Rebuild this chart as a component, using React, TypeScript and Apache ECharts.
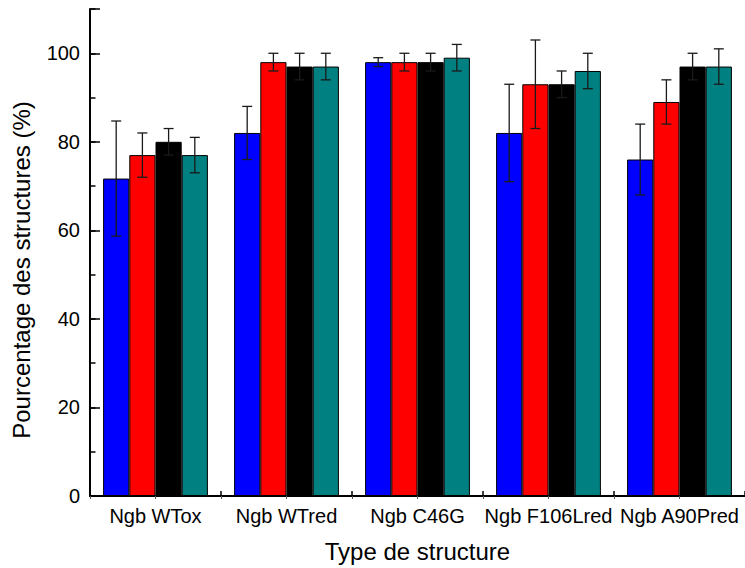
import React, { useEffect, useRef } from "react";
import * as echarts from "echarts";

const categories = ["Ngb WTox", "Ngb WTred", "Ngb C46G", "Ngb F106Lred", "Ngb A90Pred"];
const blueValues = [71.7, 82, 98, 82, 76];
const blueErrors = [13, 6, 1, 11, 8];
const redValues = [77, 98, 98, 93, 89];
const redErrors = [5, 2, 2, 10, 5];
const blackValues = [80, 97, 98, 93, 97];
const blackErrors = [3, 3, 2, 3, 3];
const tealValues = [77, 97, 99, 96, 97];
const tealErrors = [4, 3, 3, 4, 4];
const yTicks = [0, 20, 40, 60, 80, 100];

const FONT = '"Liberation Sans", Arial, sans-serif';

export default function App() {
  const ref = useRef<HTMLDivElement>(null);
  useEffect(() => {
    document.body.style.margin = "0";
    const chart = echarts.init(ref.current!, null, { renderer: "svg" });
    const seriesDefs = [
      { name: "Série 1", color: "#0000FF", values: blueValues, errors: blueErrors },
      { name: "Série 2", color: "#FF0000", values: redValues, errors: redErrors },
      { name: "Série 3", color: "#000000", values: blackValues, errors: blackErrors },
      { name: "Série 4", color: "#008080", values: tealValues, errors: tealErrors },
    ];
    const nSeries = seriesDefs.length;
    const barSeries = seriesDefs.map((s) => ({
      name: s.name,
      type: "bar",
      xAxisIndex: 0,
      yAxisIndex: 0,
      data: s.values,
      barGap: "0%",
      barCategoryGap: "20%",
      itemStyle: { color: s.color, borderColor: "#000", borderWidth: 1 },
      z: 2,
    }));
    const errSeries = seriesDefs.map((s, i) => ({
      name: s.name + " err",
      type: "custom",
      xAxisIndex: 0,
      yAxisIndex: 0,
      z: 5,
      data: s.values.map((v, k) => [k, v, s.errors[k]]),
      renderItem: (params: any, api: any) => {
        const x = api.value(0);
        const y = api.value(1);
        const e = api.value(2);
        const band = api.size([1, 0])[0];
        const barW = (band * 0.8) / nSeries;
        const c = api.coord([x, y]);
        const cx = c[0] - band * 0.4 + (i + 0.5) * barW;
        const top = api.coord([x, y + e])[1];
        const bot = api.coord([x, y - e])[1];
        const hw = 5;
        const st = { stroke: "#1a1a1a", lineWidth: 1.3 };
        return {
          type: "group",
          children: [
            { type: "line", shape: { x1: cx, y1: top, x2: cx, y2: bot }, style: st },
            { type: "line", shape: { x1: cx - hw, y1: top, x2: cx + hw, y2: top }, style: st },
            { type: "line", shape: { x1: cx - hw, y1: bot, x2: cx + hw, y2: bot }, style: st },
          ],
        };
      },
    }));

    const axisLine = { show: true, lineStyle: { color: "#000", width: 2 } };
    chart.setOption({
      animation: false,
      backgroundColor: "#fff",
      grid: { left: 90, top: 9, width: 665, height: 489, containLabel: false },
      xAxis: [
        {
          type: "category",
          position: "bottom",
          data: categories,
          axisLine,
          axisTick: { show: true, inside: true, length: 5, lineStyle: { color: "#000", width: 1.5 } },
          axisLabel: { color: "#000", fontSize: 20, fontFamily: FONT, margin: 10, interval: 0 },
          name: "Type de structure",
          nameLocation: "middle",
          nameGap: 43,
          nameTextStyle: { color: "#000", fontSize: 24, fontFamily: FONT },
          splitLine: { show: false },
        },
        {
          type: "value",
          position: "top",
          min: 0,
          max: 10,
          interval: 1,
          axisLine,
          axisTick: { show: true, inside: true, length: 3, lineStyle: { color: "#555", width: 1 } },
          axisLabel: { show: false },
          splitLine: { show: false },
        },
      ],
      yAxis: [
        {
          type: "value",
          min: 0,
          max: 110,
          interval: 10,
          position: "left",
          axisLine,
          axisTick: { show: true, inside: true, length: 5.5, lineStyle: { color: "#000", width: 1.5 } },
          axisLabel: {
            color: "#000",
            fontSize: 20,
            fontFamily: FONT,
            margin: 10,
            formatter: (v: number) => (yTicks.indexOf(v) >= 0 ? String(v) : ""),
          },
          splitLine: { show: false },
        },
        {
          type: "value",
          min: 0,
          max: 110,
          interval: 20,
          position: "left",
          axisLine: { show: false },
          axisTick: { show: true, inside: true, length: 10, lineStyle: { color: "#000", width: 1.5 } },
          axisLabel: { show: false },
          splitLine: { show: false },
        },
      ],
      graphic: [
        {
          type: "text",
          x: 21,
          y: 270,
          rotation: Math.PI / 2,
          style: {
            text: "Pourcentage des structures (%)",
            fontSize: 24,
            fontFamily: FONT,
            fill: "#000",
            align: "center",
            verticalAlign: "middle",
            textAlign: "center",
            textVerticalAlign: "middle",
          },
        },
      ],
      series: [...barSeries, ...errSeries],
    });
    return () => chart.dispose();
  }, []);
  return <div ref={ref} style={{ width: 745, height: 568 }} />;
}
